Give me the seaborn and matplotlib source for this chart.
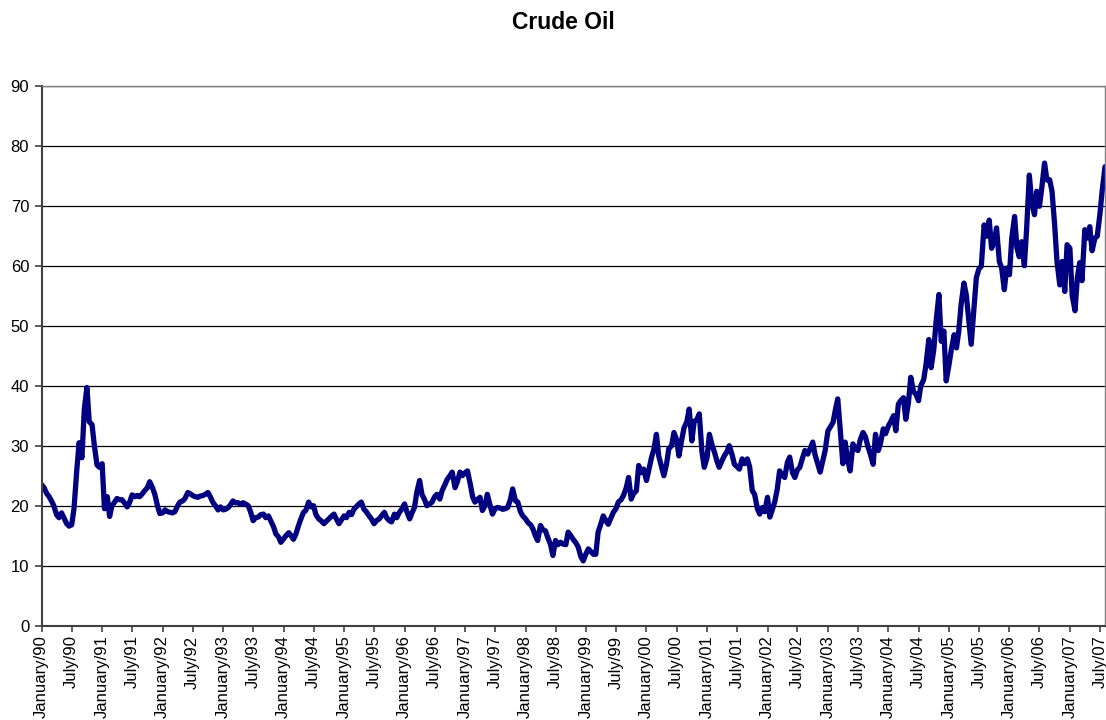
import pandas as pd
import seaborn as sns
import matplotlib.pyplot as plt
import matplotlib.dates as mdates

# crude oil price, twice a month (1st and 15th), USD/bbl
oil_1990 = [23.5, 23.0, 22.0, 21.5, 20.8, 20.0, 18.5, 18.0, 18.8, 18.0, 17.0, 16.6,
            16.8, 19.5, 26.0, 30.5, 28.0, 36.0, 39.7, 34.0, 33.5, 30.0, 26.8, 26.4]
oil_1991 = [27.0, 19.5, 21.5, 18.2, 20.0, 20.5, 21.2, 21.0, 21.0, 20.5, 19.8, 20.5,
            21.8, 21.5, 21.7, 21.5, 22.0, 22.5, 23.0, 24.0, 23.0, 21.9, 20.0, 18.7]
oil_1992 = [18.8, 19.3, 19.0, 18.9, 18.8, 19.0, 20.0, 20.6, 20.8, 21.2, 22.2, 22.0,
            21.7, 21.5, 21.4, 21.6, 21.7, 21.9, 22.2, 21.5, 20.5, 20.0, 19.3, 19.8]
oil_1993 = [19.3, 19.4, 19.7, 20.2, 20.8, 20.5, 20.5, 20.2, 20.5, 20.3, 20.0, 19.0,
            17.5, 18.0, 18.1, 18.5, 18.6, 18.0, 18.3, 17.5, 16.5, 15.3, 14.8, 13.9]
oil_1994 = [14.5, 15.0, 15.5, 15.0, 14.4, 15.2, 16.7, 17.8, 18.9, 19.2, 20.6, 19.8,
            20.0, 18.5, 17.8, 17.5, 17.0, 17.4, 17.8, 18.2, 18.6, 17.8, 17.0, 17.6]
oil_1995 = [18.3, 18.0, 18.9, 18.5, 19.4, 19.8, 20.3, 20.6, 19.4, 19.0, 18.3, 17.8,
            17.0, 17.5, 17.8, 18.3, 18.9, 18.0, 17.5, 17.3, 18.6, 18.0, 18.9, 19.4]
oil_1996 = [20.3, 19.0, 17.8, 18.8, 19.7, 22.2, 24.2, 21.9, 21.0, 20.0, 20.3, 20.6,
            21.5, 21.9, 21.1, 22.5, 23.5, 24.4, 25.0, 25.6, 23.0, 24.0, 25.6, 25.0]
oil_1997 = [25.5, 25.8, 23.6, 21.5, 20.6, 21.0, 21.4, 19.2, 20.0, 21.9, 20.0, 18.6,
            19.5, 19.7, 19.6, 19.4, 19.5, 19.7, 21.0, 22.8, 20.8, 20.6, 19.0, 18.3]
oil_1998 = [17.8, 17.2, 16.8, 16.1, 15.0, 14.2, 16.7, 16.0, 15.8, 14.7, 13.5, 11.7,
            14.2, 13.5, 13.9, 13.6, 13.5, 15.6, 15.0, 14.4, 13.8, 13.1, 11.5, 10.8]
oil_1999 = [12.0, 12.8, 12.3, 11.9, 11.9, 15.6, 17.0, 18.3, 17.5, 16.9, 18.0, 18.9,
            19.5, 20.6, 21.0, 21.7, 23.0, 24.7, 21.1, 22.0, 22.5, 26.7, 25.5, 26.1]
oil_2000 = [24.2, 26.0, 28.1, 29.4, 31.9, 28.3, 26.5, 25.0, 26.9, 29.5, 30.0, 32.2,
            31.0, 28.3, 31.0, 33.0, 34.0, 36.1, 30.8, 34.0, 34.4, 35.3, 29.0, 26.4]
oil_2001 = [28.0, 31.9, 30.0, 28.9, 27.5, 26.4, 27.5, 28.3, 29.0, 30.0, 28.5, 26.9,
            26.5, 26.1, 27.8, 27.0, 27.8, 26.5, 22.5, 21.9, 19.5, 18.6, 19.7, 19.0]
oil_2002 = [21.4, 18.1, 19.5, 20.8, 22.8, 25.8, 25.0, 24.7, 27.2, 28.1, 25.5, 24.7,
            26.0, 26.4, 28.0, 29.2, 28.6, 29.5, 30.6, 28.5, 26.9, 25.6, 27.5, 29.2]
oil_2003 = [32.5, 33.1, 33.9, 36.0, 37.8, 33.1, 27.0, 30.6, 27.5, 25.8, 30.3, 29.5,
            29.2, 31.0, 32.2, 31.5, 29.7, 28.5, 26.9, 31.9, 29.2, 30.5, 32.8, 32.0]
oil_2004 = [33.3, 34.0, 35.0, 32.5, 36.9, 37.5, 38.0, 34.4, 37.2, 41.4, 39.0, 38.6,
            37.5, 40.0, 41.0, 43.5, 47.7, 43.0, 46.0, 50.7, 55.2, 47.4, 49.1, 40.8]
oil_2005 = [43.5, 46.0, 48.5, 46.3, 49.1, 53.5, 57.1, 55.2, 50.7, 46.9, 53.0, 58.0,
            59.5, 59.9, 66.8, 64.9, 67.6, 62.9, 64.0, 66.3, 60.7, 59.6, 56.0, 59.6]
oil_2006 = [58.5, 64.6, 68.2, 63.0, 61.5, 64.0, 60.0, 66.3, 75.1, 70.7, 68.5, 72.4,
            69.9, 72.9, 77.1, 74.3, 74.3, 72.4, 66.8, 60.7, 56.8, 60.7, 55.7, 63.5]
oil_2007 = [62.9, 55.0, 52.5, 58.0, 60.5, 57.5, 66.0, 64.6, 66.5, 62.5, 64.6, 64.9,
            68.5, 72.5, 76.5]

prices = (oil_1990 + oil_1991 + oil_1992 + oil_1993 + oil_1994 + oil_1995 +
          oil_1996 + oil_1997 + oil_1998 + oil_1999 + oil_2000 + oil_2001 +
          oil_2002 + oil_2003 + oil_2004 + oil_2005 + oil_2006 + oil_2007)
dates = pd.date_range('1990-01-01', periods=len(prices), freq='SMS')
df = pd.DataFrame({'date': dates, 'price': prices})

sns.set_style('white')
plt.rcParams['font.family'] = ['Liberation Sans', 'DejaVu Sans']

fig = plt.figure(figsize=(11.06, 7.2), dpi=100)
ax = fig.add_axes([41.7 / 1106, 1 - 625.7 / 720, (1105 - 41.7) / 1106, (625.7 - 85.7) / 720])

sns.lineplot(data=df, x='date', y='price', color='#000080', linewidth=3.8, ax=ax)

ax.set_ylim(0, 90)
ax.set_yticks(range(0, 91, 10))
ax.set_xlim(pd.Timestamp('1990-01-01'), pd.Timestamp('2007-08-01'))
ax.xaxis.set_major_locator(mdates.MonthLocator(bymonth=[1, 7]))
ax.xaxis.set_major_formatter(mdates.DateFormatter('%B/%y'))
plt.setp(ax.get_xticklabels(), rotation=90)

ax.grid(axis='y', color='black', linewidth=0.9)
ax.set_axisbelow(True)
ax.tick_params(axis='both', direction='out', width=1.2, color='#404040',
               labelsize=12, labelcolor='black', bottom=True, left=True)
ax.tick_params(axis='y', length=5, pad=4)
ax.tick_params(axis='x', length=4, pad=3)
for side in ['left', 'bottom']:
    ax.spines[side].set_color('#404040')
    ax.spines[side].set_linewidth(1.5)
for side in ['top', 'right']:
    ax.spines[side].set_color('#808080')
    ax.spines[side].set_linewidth(1.0)

ax.set_xlabel('')
ax.set_ylabel('')
fig.text(563 / 1106, 1 - 29 / 720, 'Crude Oil', ha='center', va='baseline',
         fontsize=16.5, fontweight='bold', color='black')

fig.savefig('out.png', dpi=100)
